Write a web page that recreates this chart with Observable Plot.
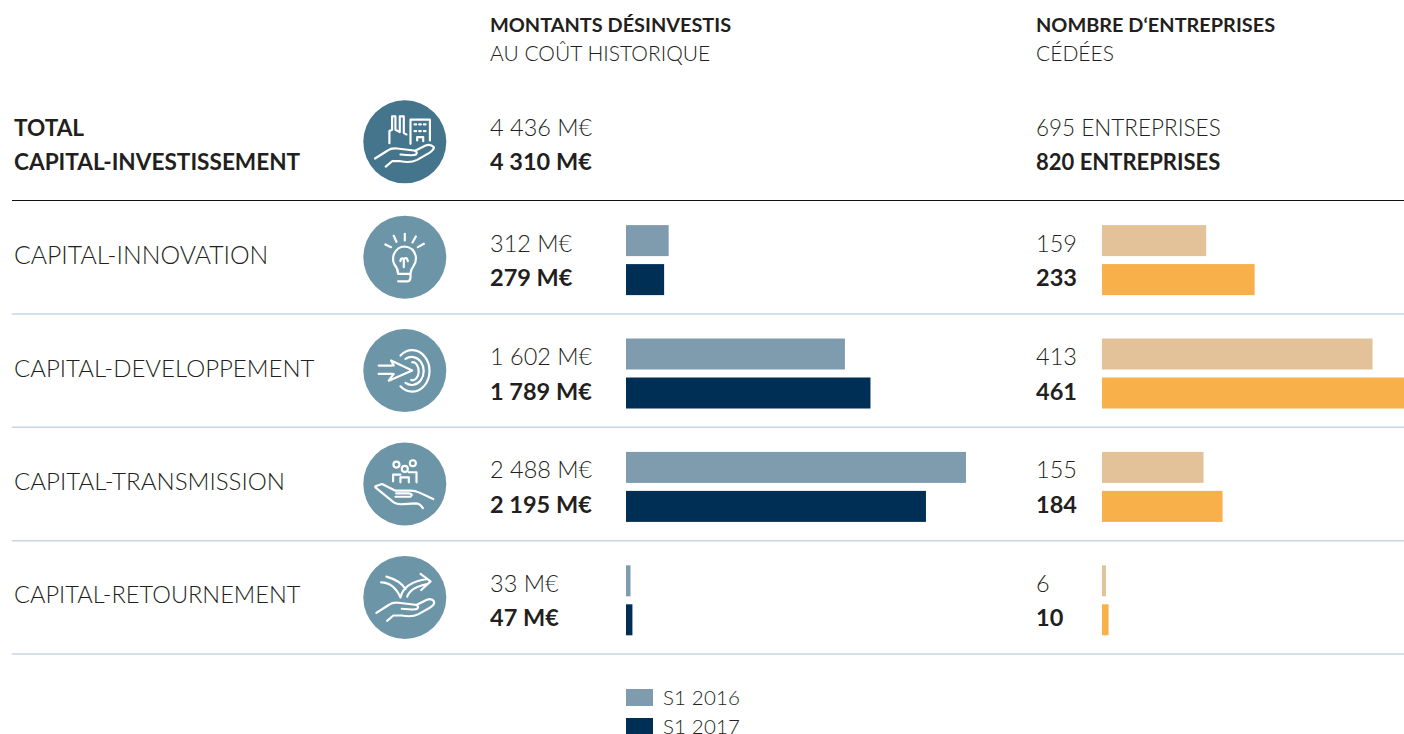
<!DOCTYPE html>
<html><head><meta charset="utf-8">
<script src="https://cdn.jsdelivr.net/npm/d3@7"></script>
<script src="https://cdn.jsdelivr.net/npm/@observablehq/plot@0.6"></script>
<style>
html,body{margin:0;padding:0;background:#fff;overflow:hidden}
#wrap{position:relative;width:1404px;height:734px;overflow:hidden;font-family:Lato,sans-serif;color:#231f20}
#wrap svg{position:absolute;left:0;top:0;background:transparent}
.h{position:absolute;font-size:21px;line-height:28.5px;white-space:nowrap;font-weight:300}
.h b{font-weight:700;font-size:19.9px}
.lg{position:absolute;left:626px;height:17px;line-height:17px;display:flex;align-items:center;font-size:20.5px;font-weight:300;letter-spacing:.15px;white-space:nowrap}
.lg i{display:inline-block;width:27px;height:17px;margin-right:10px}
</style></head><body>
<div id="wrap">
<div class="h" style="left:490px;top:10px"><b>MONTANTS DÉSINVESTIS</b><br>AU COÛT HISTORIQUE</div>
<div class="h" style="left:1036px;top:10px"><b>NOMBRE D‘ENTREPRISES</b><br>CÉDÉES</div>
<div class="lg" style="top:689px"><i style="background:#7f9cae"></i>S1 2016</div>
<div class="lg" style="top:718px"><i style="background:#002f56"></i>S1 2017</div>
</div>
<script>
const totalRow = "TOTAL\nCAPITAL-INVESTISSEMENT";
const rows = ["CAPITAL-INNOVATION","CAPITAL-DEVELOPPEMENT","CAPITAL-TRANSMISSION","CAPITAL-RETOURNEMENT"];
const rowLabelSizes = [24.8,24,24.1,23.6];
const years = ["S1 2016","S1 2017"];
const amounts2016 = [312,1602,2488,33];
const amounts2017 = [279,1789,2195,47];
const counts2016 = [159,413,155,6];
const counts2017 = [233,461,184,10];
const totalAmounts = ["4 436 M€","4 310 M€"];
const totalCounts = ["695 ENTREPRISES","820 ENTREPRISES"];
const amountColors = ["#7f9cae","#002f56"];
const countColors = ["#e3c29a","#f7b04a"];

const hand = "M74 204 L112 180 Q122 172 140 174 L190 180 Q204 184 196 192 Q190 196 150 192 M195 180 L225 165 Q240 160 250 170 Q250 178 235 188 L200 208 Q180 218 150 212 L125 212 L106 228";
const glyphs = {
  [totalRow]: {c:[163,154], d:hand+" M117 158 V122 L125 118 V78 H135 V118 L148 125 V78 H160 V128 L168 132 M180 160 V88 H238 V150 M192 102 H197 M206 102 H211 M220 102 H225 M192 122 H197 M206 122 H211 M220 122 H225 M200 150 V140 H218 V152"},
  "CAPITAL-INNOVATION": {c:[163,500], d:"M105 462 L122 470 M130 436 L138 454 M163 430 V450 M196 438 L186 456 M220 460 L202 470 M143 550 Q143 535 132 522 Q125 510 130 492 Q140 468 163 468 Q190 470 196 498 Q198 515 188 528 Q180 538 180 550 H143 M143 572 H172 Q180 572 180 560 V550 M150 512 Q150 500 160 505 Q170 498 172 512 M160 505 V530"},
  "CAPITAL-DEVELOPPEMENT": {c:[163,150], d:"M85 135 H125 M85 160 H125 M130 135 L122 120 L185 150 L115 180 L130 160 M150 105 A 52 62 0 1 1 150 197 M165 115 A 36 42 0 1 1 165 187 M185 125 A 18 27 0 1 1 182 178"},
  "CAPITAL-TRANSMISSION": {c:[163,490], d:"M147 432 A9 9 0 1 1 129 432 A9 9 0 1 1 147 432 M172 445 A9 9 0 1 1 154 445 A9 9 0 1 1 172 445 M196 428 A9 9 0 1 1 178 428 A9 9 0 1 1 196 428 M128 482 V462 H150 M150 485 V470 H175 V485 M175 455 H198 V485 M75 497 L95 490 L135 510 H180 Q195 510 205 515 L248 535 M75 500 L130 545 Q140 552 160 550 L195 548 Q208 548 217 562 M137 518 H175 Q190 520 180 528 H135"},
  "CAPITAL-RETOURNEMENT": {c:[163,830], d:"M92 785 Q130 785 150 830 M108 768 Q150 780 165 805 M150 830 Q160 785 230 775 M170 828 Q180 800 230 790 M210 760 L240 782 L212 808 M78 876 L116 852 Q126 844 144 846 L194 852 Q208 856 200 864 Q194 868 154 864 M199 852 L229 837 Q244 832 250 842 Q254 850 239 860 L204 880 Q184 890 154 884 L129 884 L110 900"}
};
const iconSrc = name => {
  const {c:[cx,cy],d} = glyphs[name];
  const svg = `<svg xmlns="http://www.w3.org/2000/svg" width="83" height="83" viewBox="${cx-124} ${cy-124} 248 248"><path d="${d}" fill="none" stroke="white" stroke-width="6.5" stroke-linecap="round" stroke-linejoin="round"/></svg>`;
  return "data:image/svg+xml;utf8," + encodeURIComponent(svg);
};

const allRows = [totalRow, ...rows];
const fmt = v => d3.format(",")(v).replace(/,/g," ");
const longTable = (a,b) => rows.flatMap((row,i)=>[
  {row, year:years[0], value:a[i]},
  {row, year:years[1], value:b[i]}
]);
const amounts = longTable(amounts2016, amounts2017);
const counts = longTable(counts2016, counts2017);
const is = y => d => d.year === y;
const sep = (row, stroke, strokeWidth) => Plot.frame({anchor:"bottom", fy:row, stroke, strokeWidth});
const base = {
  width:1404, height:734, marginLeft:12, marginRight:0, marginTop:87, marginBottom:80,
  style:{fontFamily:"Lato, sans-serif", background:"transparent"},
  fy:{domain:allRows, range:[86.6,653.6], padding:0, round:false, axis:null},
  y:{domain:years, round:false, paddingInner:0.205, paddingOuter:0.5563, align:0.5785, axis:null}
};
const valueText = (data, text, y, dy, weight, dx) => Plot.text(data.filter(is(y)), {
  fy:"row", y:"year", text, frameAnchor:"left", textAnchor:"start", dx, dy,
  fontSize:23.5, fontWeight:weight, fill:"#231f20"
});
const totalText = (labels, i, dy, weight, dx, fontSize=23.5) => Plot.text([{row:totalRow, year:years[i], label:labels[i]}], {
  fy:"row", y:"year", text:"label", frameAnchor:"left", textAnchor:"start", dx, dy,
  fontSize, fontWeight:weight, fill:"#231f20"
});

const left = Plot.plot({...base,
  x:{domain:[0,2488], range:[626,966], axis:null},
  color:{domain:years, range:amountColors},
  marks:[
    sep(totalRow,"#111",1),
    ...rows.map(r=>sep(r,"#c9d6e2",1.5)),
    Plot.barX(amounts,{fy:"row", y:"year", x:"value", fill:"year"}),
    Plot.dot(rows,{fy:d=>d, frameAnchor:"left", dx:392.3, dy:0, r:41.5, fill:"#6d95a8"}),
    Plot.image(rows,{fy:d=>d, frameAnchor:"left", dx:392.3, dy:0, width:83, height:83, src:iconSrc}),
    Plot.dot([totalRow],{fy:d=>d, frameAnchor:"left", dx:392.3, dy:-2, r:41.5, fill:"#44758c"}),
    Plot.image([totalRow],{fy:d=>d, frameAnchor:"left", dx:392.3, dy:-2, width:83, height:83, src:iconSrc}),
    Plot.text(rows,{fy:d=>d, text:d=>d, frameAnchor:"left", textAnchor:"start", dx:1.5, dy:-1.5, fontSize:d=>rowLabelSizes[rows.indexOf(d)], fontWeight:300, fill:"#231f20"}),
    Plot.text([totalRow],{fy:d=>d, text:d=>d, frameAnchor:"left", textAnchor:"start", dx:1.5, dy:-1.5, lineHeight:1.48, fontSize:22.6, fontWeight:700, fill:"#231f20"}),
    valueText(amounts, d=>fmt(d.value)+" M€", years[0], 3, 300, 477.5),
    valueText(amounts, d=>fmt(d.value)+" M€", years[1], -1.5, 700, 477.5),
    totalText(totalAmounts,0,1,300,477.5),
    totalText(totalAmounts,1,-4,700,477.5)
  ]
});
const right = Plot.plot({...base,
  x:{domain:[0,461], range:[1102,1404], axis:null},
  color:{domain:years, range:countColors},
  marks:[
    Plot.barX(counts,{fy:"row", y:"year", x:"value", fill:"year"}),
    valueText(counts, d=>fmt(d.value), years[0], 3, 300, 1023.5),
    valueText(counts, d=>fmt(d.value), years[1], -1.5, 700, 1023.5),
    totalText(totalCounts,0,1,300,1023.5,22.5),
    totalText(totalCounts,1,-4,700,1023.5,22)
  ]
});
const wrap = document.getElementById("wrap");
wrap.prepend(right);
wrap.prepend(left);
</script>
</body></html>
